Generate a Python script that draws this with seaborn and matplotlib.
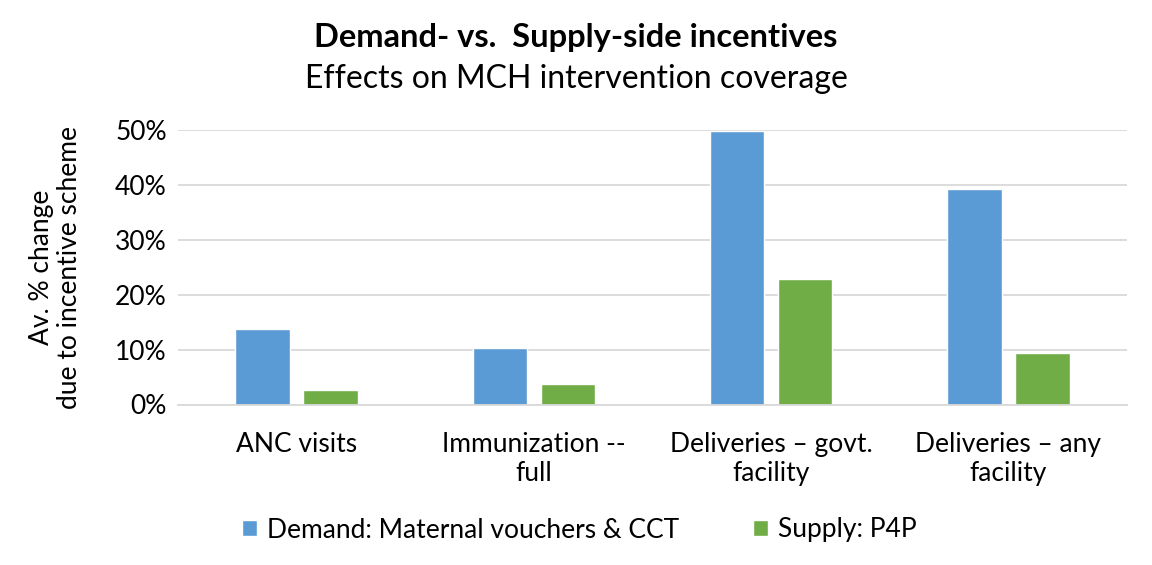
import pandas as pd
import matplotlib.pyplot as plt
import seaborn as sns
from matplotlib.ticker import PercentFormatter

# data
categories = ["ANC visits", "Immunization --\nfull", "Deliveries \u2013 govt.\nfacility", "Deliveries \u2013 any\nfacility"]
series = ["Demand: Maternal vouchers & CCT", "Supply: P4P"]
demand = [13.7, 10.3, 49.9, 39.3]
supply = [2.6, 3.7, 22.9, 9.4]
colors = ["#5b9bd5", "#70ad47"]

df = pd.DataFrame({
    "category": categories * 2,
    "scheme": [series[0]] * 4 + [series[1]] * 4,
    "value": demand + supply,
})

sns.set_theme(style="white")
plt.rcParams["font.family"] = ["Lato", "DejaVu Sans"]
plt.rcParams["text.color"] = "black"

fig = plt.figure(figsize=(11.52, 5.65), dpi=100)
ax = fig.add_axes([178 / 1152, 1 - 404.5 / 565, (1127 - 178) / 1152, (404.5 - 130) / 565])

sns.barplot(data=df, x="category", y="value", hue="scheme", palette=colors,
            width=0.574, gap=0.2, saturation=1, ax=ax)

ax.set_ylim(0, 50)
ax.set_yticks([0, 10, 20, 30, 40, 50])
ax.yaxis.set_major_formatter(PercentFormatter(decimals=0))
ax.grid(axis="y", color="#d9d9d9", linewidth=1.3)
ax.set_axisbelow(True)
for s in ["top", "right", "left"]:
    ax.spines[s].set_visible(False)
ax.spines["bottom"].set_color("#d9d9d9")
ax.spines["bottom"].set_linewidth(1.3)
ax.tick_params(axis="both", length=0, labelsize=19, colors="black")
ax.tick_params(axis="x", pad=20)
ax.tick_params(axis="y", pad=8)
ax.set_xlabel("")
ax.set_ylabel("Av. % change\ndue to incentive scheme", fontsize=19, labelpad=24,
              color="black", linespacing=1.15)

fig.text(0.5, 1 - 38 / 565, "Demand- vs.  Supply-side incentives", ha="center", va="center",
         fontsize=23.5, fontweight="bold")
fig.text(0.5, 1 - 79 / 565, "Effects on MCH intervention coverage", ha="center", va="center",
         fontsize=23)

ax.legend(loc="center", bbox_to_anchor=(0.503, 1 - 530 / 565), bbox_transform=fig.transFigure,
          ncol=2, frameon=False, fontsize=19, handlelength=0.55, handleheight=0.55,
          handletextpad=0.4, columnspacing=2.8)

fig.savefig("out.png", dpi=100)
